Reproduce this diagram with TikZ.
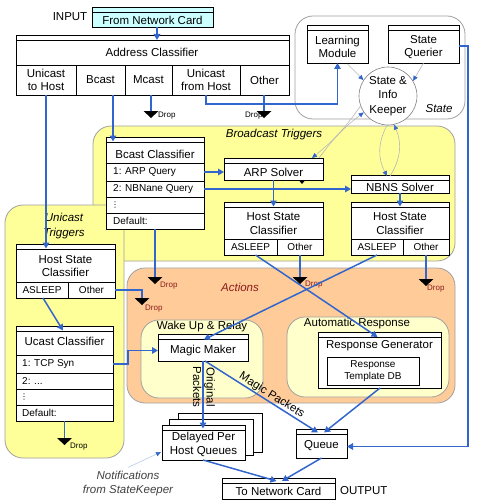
\documentclass[tikz,border=0pt]{standalone}
\usepackage{fontspec}
\setmainfont{Liberation Sans}
\newfontfamily\dvs{DejaVu Sans}
\usetikzlibrary{arrows.meta,calc}
\definecolor{cn}{HTML}{3366CC}
\definecolor{yel}{HTML}{FFFF99}
\definecolor{lyel}{HTML}{FFFFCC}
\definecolor{orng}{HTML}{FFCC99}
\definecolor{cyn}{HTML}{CCFFFF}
\definecolor{regb}{HTML}{A0A0A0}
\definecolor{mar}{HTML}{8B1A1A}
\definecolor{gln}{HTML}{B8B8B8}
\newcommand\fM{\fontsize{11.5}{13.5}\selectfont}
\newcommand\fS{\fontsize{10}{12}\selectfont}
\newcommand\fD{\fontsize{8}{9}\selectfont}
\newcommand\bx[7][]{\node[box,#1,minimum width={#5-#3},minimum height={#6-#4}] (#2) at (#3,#4) {#7};}
\begin{document}
\begin{tikzpicture}[x=1pt,y=-1pt,
  box/.style={draw, fill=white, line width=0.7pt, inner sep=0pt, outer sep=0pt, anchor=north west},
  hdr/.style={path picture={\draw[line width=0.5pt] ([yshift=-#1]path picture bounding box.north west) -- ([yshift=-#1]path picture bounding box.north east);}},
  hdr/.default=5pt,
  cell/.style={font=\fM, align=center},
  rowtxt/.style={anchor=west, font=\fS, inner sep=0pt},
  dots/.style={anchor=west, font=\dvs\fontsize{8}{9}\selectfont, inner sep=0pt},
  region/.style={draw=regb, line width=0.8pt, rounded corners=18pt},
  wire/.style={draw=cn, line width=1.5pt},
  conn/.style={wire, -{Triangle[length=6pt,width=6.5pt]}},
  gconn/.style={draw=gln, line width=0.6pt, -{Triangle[length=5pt,width=4.5pt,color=cn]}},
  droplbl/.style={font=\fD, inner sep=0pt, anchor=west},
  lbl/.style={font=\fM, align=center, inner sep=0pt},
  ital/.style={font=\fM\itshape, inner sep=0pt}]
\useasboundingbox (0,0) rectangle (486,503);
% regions
\bx[region]{stR}{295}{16}{465}{119}{}
\bx[region,fill=yel]{bR}{93}{126}{455}{261}{}
\bx[region,fill=yel]{uR}{5}{205}{124}{458}{}
\bx[region,fill=orng]{aR}{127}{268}{455}{403}{}
\bx[region,fill=lyel]{wR}{141}{320}{263}{398}{}
\bx[region,fill=lyel]{arR}{287}{317}{449}{397}{}
\node[ital] (stL) at (439,109) {State};
\node[ital] (bL) at (274,135) {Broadcast Triggers};
\node[ital, align=center, font=\fontsize{11.5}{15}\selectfont\itshape] (uL) at (64,226) {Unicast\\Triggers};
\node[ital, text=mar] (aL) at (240,287) {Actions};
\node[lbl] (wL) at (202,327) {Wake Up \& Relay};
\node[lbl] (arL) at (357,324) {Automatic Response};
% top
\node[lbl] (inp) at (70,17) {INPUT};
\bx[hdr,fill=cyn]{fnc}{92}{7}{213}{27}{}
\node[lbl] (fncT) at (152.5,20) {From Network Card};
\bx[hdr]{ac}{16}{35}{289}{95}{}
\node[lbl] (acT) at (152,52.5) {Address Classifier};
\bx[cell]{uth}{16}{65}{76}{95}{Unicast\\to Host}
\bx[cell]{bc}{76}{65}{125}{95}{Bcast}
\bx[cell]{mc}{125}{65}{172}{95}{Mcast}
\bx[cell]{ufh}{172}{65}{240}{95}{Unicast\\from Host}
\bx[cell]{oth}{240}{65}{289}{95}{Other}
% state
\bx[hdr]{lm}{307}{25}{368}{63}{}
\node[lbl] (lmT) at (337.5,47) {Learning\\Module};
\bx[hdr]{sq}{388}{25}{459}{63}{}
\node[lbl] (sqT) at (423.5,47) {State\\Querier};
\node[circle, draw=gray, line width=0.6pt, fill=white, minimum size=58pt, inner sep=0pt, align=center, font=\fontsize{11.5}{14.5}\selectfont] (sik) at (388,96) {State \&\\Info\\Keeper};
% broadcast
\bx[hdr]{bcc}{106}{137}{204}{229}{}
\node[lbl] (bccT) at (155,154) {Bcast Classifier};
\bx{b1}{106}{163}{204}{181}{}
\bx{b2}{106}{181}{204}{197}{}
\bx{b3}{106}{197}{204}{213}{}
\bx{b4}{106}{213}{204}{229}{}
\node[rowtxt] (b1T) at (113,172) {1: ARP Query};
\node[rowtxt] (b2T) at (113,189) {2: NBNane Query};
\node[dots] (b3T) at (111,205) {⋮};
\node[rowtxt] (b4T) at (113,221) {Default:};
\bx[hdr]{arp}{224}{158}{323}{180}{}
\node[lbl] (arpT) at (273.5,172) {ARP Solver};
\fill ($(arp.south)+(26,1)$) -- ++(5,0) -- ++(-2.5,3) -- cycle;
\bx[hdr]{nbns}{351}{175}{449}{193}{}
\node[lbl] (nbnsT) at (400,187) {NBNS Solver};
\bx[hdr]{hscM}{224}{202}{323}{255}{}
\node[lbl] (hscMT) at (273.5,223.5) {Host State\\Classifier};
\bx[cell,font=\fS]{hscMa}{224}{239}{277}{255}{ASLEEP}
\bx[cell,font=\fS]{hscMo}{277}{239}{323}{255}{Other}
\bx[hdr]{hscR}{351}{202}{449}{255}{}
\node[lbl] (hscRT) at (400,223.5) {Host State\\Classifier};
\bx[cell,font=\fS]{hscRa}{351}{239}{403}{255}{ASLEEP}
\bx[cell,font=\fS]{hscRo}{403}{239}{449}{255}{Other}
% unicast
\bx[hdr]{hscL}{16}{244}{115}{298}{}
\node[lbl] (hscLT) at (65.5,266) {Host State\\Classifier};
\bx[cell,font=\fS]{hscLa}{16}{282}{68}{298}{ASLEEP}
\bx[cell,font=\fS]{hscLo}{68}{282}{115}{298}{Other}
\bx[hdr]{ucc}{16}{326}{113}{421}{}
\node[lbl] (uccT) at (64.5,341) {Ucast Classifier};
\bx{u1}{16}{355}{113}{373}{}
\bx{u2}{16}{373}{113}{389}{}
\bx{u3}{16}{389}{113}{405}{}
\bx{u4}{16}{405}{113}{421}{}
\node[rowtxt] (u1T) at (22,364) {1: TCP Syn};
\node[rowtxt] (u2T) at (22,381) {2: ...};
\node[dots] (u3T) at (20,397) {⋮};
\node[rowtxt] (u4T) at (22,413) {Default:};
% actions
\bx[hdr]{mm}{158}{334}{248}{361}{}
\node[lbl] (mmT) at (203,351) {Magic Maker};
\bx[hdr]{rg}{318}{332}{441}{388}{}
\node[lbl] (rgT) at (379.5,346) {Response Generator};
\bx[font=\fS, align=center]{db}{327}{357}{419}{385}{Response\\Template DB}
% bottom
\bx{dq3}{178}{413}{262}{452}{}
\bx{dq2}{169}{419}{253}{455}{}
\bx[hdr]{dq}{162}{425}{245}{460}{}
\node[lbl, font=\fontsize{11.5}{14}\selectfont] (dqT) at (203.5,444.5) {Delayed Per\\Host Queues};
\bx[hdr]{q}{296}{429}{347}{458}{}
\node[lbl] (qT) at (321.5,446) {Queue};
\bx[hdr]{tnc}{222}{478}{335}{499}{}
\node[lbl] (tncT) at (278.5,491) {To Network Card};
\node[lbl, anchor=west] (outT) at (340,491) {OUTPUT};
\node[lbl, font=\fontsize{11.5}{14}\selectfont\itshape, text=darkgray] (notif) at (128,484) {Notifications\\from StateKeeper};
% drops
\node[droplbl] (d1L) at (158,116) {Drop};
\node[droplbl] (d2L) at (245,116) {Drop};
\node[droplbl,text=mar] (d3L) at (160,286) {Drop};
\node[droplbl,text=mar] (d4L) at (145,309) {Drop};
\node[droplbl,text=mar] (d5L) at (305,285) {Drop};
\node[droplbl,text=mar] (d6L) at (427,289) {Drop};
\node[droplbl] (d7L) at (70,447) {Drop};
\coordinate (d1) at (151,111);
\coordinate (d2) at (264,111);
\coordinate (d3) at (155,277);
\coordinate (d4) at (142,298);
\coordinate (d5) at (300,277);
\coordinate (d6) at (426,279);
\coordinate (d7) at (64.5,438);
\foreach \i in {1,...,7} {\fill[shift={(d\i)}] (-7.5,0) -- (7.5,0) -- (0,7) -- cycle;}
% connectors
\draw[conn] ($(fnc.south)+(4.5,0)$) -- ($(fnc.south |- ac.north)+(4.5,5)$);
\draw[conn] (uth.south) -- ($(uth.south |- hscL.north)+(0,4.5)$);
\draw[conn] ($(bc.south)+(12.5,0)$) -- ($(bc.south |- bcc.north)+(12.5,4.5)$);
\draw[wire] (mc.south -| d1) -- (d1);
\draw[conn] (ufh.south) -- ++(0,9) -| (lm.south);
\draw[wire] (oth.south -| d2) -- (d2);
\draw[conn] (b1.east) -- (b1.east -| arp.west);
\draw[conn] (b2.east) -- (b2.east -| nbns.west);
\draw[conn] (arp.south) -- ($(arp.south |- hscM.north)+(0,4.5)$);
\draw[conn] (nbns.south) -- ($(nbns.south |- hscR.north)+(0,4.5)$);
\draw[wire] (b4.south) -- (d3);
\draw[wire] (hscMo.south) -- (d5);
\draw[wire] (hscRo.south) -- (d6);
\draw[conn] ($(hscMa.south)+(5,0)$) -- ($(rg.north)+(-2,5)$);
\draw[conn] (hscRa.south) -- ($(mm.north)+(1,5.5)$);
\draw[conn] ($(hscLa.south)+(1,0)$) -- ($(ucc.north)+(-1.5,4.5)$);
\draw[wire] (hscLo.east) -| (d4);
\draw[conn] (u1.east) -- ++(15,0) |- ($(mm.west)+(0,3)$);
\draw[wire] (u4.south) -- (d7);
\draw[conn] (mm.south) -- ($(mm.south |- dq.north)+(0,3.5)$);
\node[lbl, rotate=-90] (opL) at (204,387) {Original\\Packets};
\draw[conn] ($(mm.south)+(2,0)$) -- ($(q.north)+(-3.5,3.5)$) node[pos=0.56, sloped, above=0.5pt, lbl] (mpL) {Magic Packets};
\draw[conn] ($(rg.south)+(0.5,0)$) -- ($(q.north)+(2.5,3.5)$);
\draw[conn] ($(sq.east)+(0,2)$) -- ++(9,0) |- ($(q.east)+(0,3)$);
\draw[conn] ($(dq.south)+(-0.5,0)$) -- ($(tnc.north)+(-2,3)$);
\draw[conn] (q.south) -- ($(tnc.north)+(3.5,3)$);
% state arrows
\draw[gconn] ($(lm.south)+(10,1)$) -- (sik.147);
\draw[gconn] (sq.south) -- (sik.31);
\draw[gconn] (sik.200) to[bend left=8] ($(arp.north east)+(-11,0)$);
\draw[gconn] ($(arp.north east)+(-4,0)$) to[bend left=8] (sik.214);
\draw[gconn] (sik.268) to[bend right=28] ($(nbns.north)+(-13,1)$);
\draw[gconn] ($(nbns.north)+(-10,1)$) to[bend right=28] (sik.282);
\draw[gconn, draw=cn!35] ($(notif.north)+(0,-4)$) -- ($(dq.west)+(-1,9.5)$);
\end{tikzpicture}
\end{document}
